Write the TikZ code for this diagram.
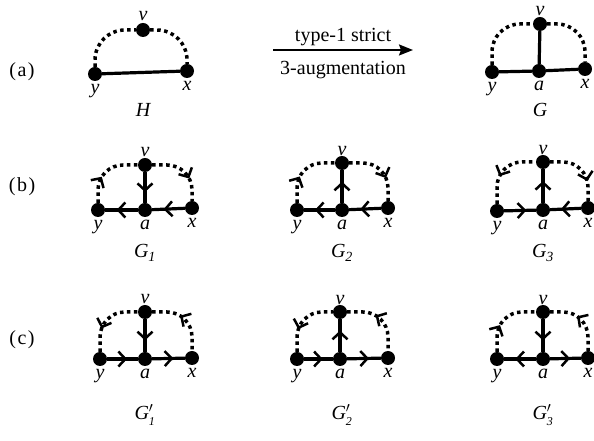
\documentclass[tikz,border=0pt]{standalone}
\usepackage{fontspec}
\setmainfont{Liberation Serif}
\usepackage{tikz}
\usetikzlibrary{positioning, calc, arrows.meta, decorations.markings}

\begin{document}
\begin{tikzpicture}[
    x=1pt, y=1pt,
    dot/.style={circle, fill=black, inner sep=0pt, minimum size=14pt},
    lbl/.style={font=\fontsize{20}{24}\selectfont\itshape, inner sep=0pt},
    tag/.style={font=\fontsize{20}{24}\selectfont, inner sep=0pt},
    edge/.style={line width=3.2pt},
    arc/.style={line width=3.5pt, dash pattern=on 3.5pt off 3.5pt, rounded corners=25pt},
    fwd/.style={postaction={solid, decorate, decoration={markings, mark=at position #1 with {\arrow{Straight Barb[length=7pt, width=15pt, line width=2.5pt]}}}}},
    bwd/.style={postaction={solid, decorate, decoration={markings, mark=at position #1 with {\arrowreversed{Straight Barb[length=7pt, width=15pt, line width=2.5pt]}}}}},
]
\useasboundingbox (0,0) rectangle (594,441);

% ===== Row labels =====
\node[tag] (ta) at (22,369) {(\kern1.5pt a\kern1.5pt)};
\node[tag] (tb) at (22,254) {(\kern1.5pt b\kern1.5pt)};
\node[tag] (tc) at (22,101) {(\kern1.5pt c\kern1.5pt)};

% ===== H =====
\node[dot] (yH) at (95,367) {};
\node[dot] (xH) at (187,370) {};
\node[dot] (vH) at (143,411) {};
\node[lbl, below=3pt of yH] (lyH) {y};
\node[lbl, below=3pt of xH] (lxH) {x};
\node[lbl, above=2pt of vH] (lvH) {v};
\node[lbl, anchor=base] (nH) at (143,324) {H};
\draw[edge] (yH) -- (xH);
\draw[arc, rounded corners=30pt] (yH) |- (vH);
\draw[arc, rounded corners=30pt] (vH) -| (xH);

% ===== Augmentation arrow =====
\coordinate (arrL) at (273,391);
\coordinate (arrR) at (413,391);
\draw[-{Stealth[length=14pt, width=11pt, inset=2pt]}, line width=1.8pt] (arrL) -- (arrR)
    node[tag, midway, above=3pt] (aug1) {type-1 strict}
    node[tag, midway, below=10pt] (aug2) {3-augmentation};

% ===== G =====
\node[dot] (yG) at (492,369) {};
\node[dot] (aG) at (539,370) {};
\node[dot] (xG) at (585,372) {};
\node[dot] (vG) at (540,417) {};
\node[lbl, below=3pt of yG] (lyG) {y};
\node[lbl, below=3pt of aG] (laG) {a};
\node[lbl, below=3pt of xG] (lxG) {x};
\node[lbl, above=1pt of vG] (lvG) {v};
\node[lbl, anchor=base] (nG) at (540,324) {G};
\draw[edge] (yG) -- (aG);
\draw[edge] (aG) -- (xG);
\draw[edge] (aG) -- (vG);
\draw[arc, rounded corners=28pt] (yG) |- (vG);
\draw[arc, rounded corners=28pt] (vG) -| (xG);

% ===== G_1 =====
\node[dot] (y1) at (98,231) {};
\node[dot] (a1) at (145,231) {};
\node[dot] (x1) at (192,233) {};
\node[dot] (v1) at (145,276) {};
\node[lbl, below=3pt of y1] (ly1) {y};
\node[lbl, below=3pt of a1] (la1) {a};
\node[lbl, below=3pt of x1] (lx1) {x};
\node[lbl, above=1pt of v1] (lv1) {v};
\node[lbl, anchor=base] (n1) at (145,183) {G\textsubscript{\textit{1}}};
\draw[edge, fwd=0.65] (v1) -- (a1);
\draw[edge, fwd=0.65] (x1) -- (a1);
\draw[edge, fwd=0.65] (a1) -- (y1);
\draw[arc, fwd=0.4] (y1) |- (v1);
\draw[arc, fwd=0.65] (v1) -| (x1);

% ===== G_2 =====
\node[dot] (y2) at (297,231) {};
\node[dot] (a2) at (342,231) {};
\node[dot] (x2) at (388,233) {};
\node[dot] (v2) at (342,278) {};
\node[lbl, below=3pt of y2] (ly2) {y};
\node[lbl, below=3pt of a2] (la2) {a};
\node[lbl, below=3pt of x2] (lx2) {x};
\node[lbl, above=0pt of v2] (lv2) {v};
\node[lbl, anchor=base] (n2) at (342,183) {G\textsubscript{\textit{2}}};
\draw[edge, fwd=0.65] (a2) -- (v2);
\draw[edge, fwd=0.65] (x2) -- (a2);
\draw[edge, fwd=0.65] (a2) -- (y2);
\draw[arc, fwd=0.4] (y2) |- (v2);
\draw[arc, fwd=0.65] (v2) -| (x2);

% ===== G_3 =====
\node[dot] (y3) at (497,230) {};
\node[dot] (a3) at (543,231) {};
\node[dot] (x3) at (588,233) {};
\node[dot] (v3) at (543,279) {};
\node[lbl, below=3pt of y3] (ly3) {y};
\node[lbl, below=3pt of a3] (la3) {a};
\node[lbl, below=3pt of x3] (lx3) {x};
\node[lbl, above=0pt of v3] (lv3) {v};
\node[lbl, anchor=base] (n3) at (543,183) {G\textsubscript{\textit{3}}};
\draw[edge, fwd=0.65] (a3) -- (v3);
\draw[edge, fwd=0.7] (y3) -- (a3);
\draw[edge, fwd=0.65] (x3) -- (a3);
\draw[arc, bwd=0.4] (y3) |- (v3);
\draw[arc, fwd=0.7] (v3) -| (x3);

% ===== G'_1 =====
\node[dot] (yp1) at (100,82) {};
\node[dot] (ap1) at (145,82) {};
\node[dot] (xp1) at (192,83) {};
\node[dot] (vp1) at (145,129) {};
\node[lbl, below=3pt of yp1] (lyp1) {y};
\node[lbl, below=3pt of ap1] (lap1) {a};
\node[lbl, below=3pt of xp1] (lxp1) {x};
\node[lbl, above=1pt of vp1] (lvp1) {v};
\node[lbl, anchor=base] (np1) at (145,21) {$\textit{G}'_{\textit{\fontsize{12}{12}\selectfont 1}}$};
\draw[edge, fwd=0.65] (vp1) -- (ap1);
\draw[edge, fwd=0.65] (yp1) -- (ap1);
\draw[edge, fwd=0.65] (ap1) -- (xp1);
\draw[arc, bwd=0.35] (yp1) |- (vp1);
\draw[arc, bwd=0.42] (vp1) -| (xp1);

% ===== G'_2 =====
\node[dot] (yp2) at (297,82) {};
\node[dot] (ap2) at (340,82) {};
\node[dot] (xp2) at (388,83) {};
\node[dot] (vp2) at (340,129) {};
\node[lbl, below=3pt of yp2] (lyp2) {y};
\node[lbl, below=3pt of ap2] (lap2) {a};
\node[lbl, below=3pt of xp2] (lxp2) {x};
\node[lbl, above=0pt of vp2] (lvp2) {v};
\node[lbl, anchor=base] (np2) at (342,21) {$\textit{G}'_{\textit{\fontsize{12}{12}\selectfont 2}}$};
\draw[edge, fwd=0.65] (ap2) -- (vp2);
\draw[edge, fwd=0.65] (yp2) -- (ap2);
\draw[edge, fwd=0.65] (ap2) -- (xp2);
\draw[arc, bwd=0.35] (yp2) |- (vp2);
\draw[arc, bwd=0.42] (vp2) -| (xp2);

% ===== G'_3 =====
\node[dot] (yp3) at (497,82) {};
\node[dot] (ap3) at (543,82) {};
\node[dot] (xp3) at (588,83) {};
\node[dot] (vp3) at (543,129) {};
\node[lbl, below=3pt of yp3] (lyp3) {y};
\node[lbl, below=3pt of ap3] (lap3) {a};
\node[lbl, below=3pt of xp3] (lxp3) {x};
\node[lbl, above=0pt of vp3] (lvp3) {v};
\node[lbl, anchor=base] (np3) at (543,21) {$\textit{G}'_{\textit{\fontsize{12}{12}\selectfont 3}}$};
\draw[edge, fwd=0.65] (vp3) -- (ap3);
\draw[edge, fwd=0.65] (ap3) -- (yp3);
\draw[edge, fwd=0.65] (ap3) -- (xp3);
\draw[arc, fwd=0.4] (yp3) |- (vp3);
\draw[arc, bwd=0.42] (vp3) -| (xp3);

\end{tikzpicture}
\end{document}
